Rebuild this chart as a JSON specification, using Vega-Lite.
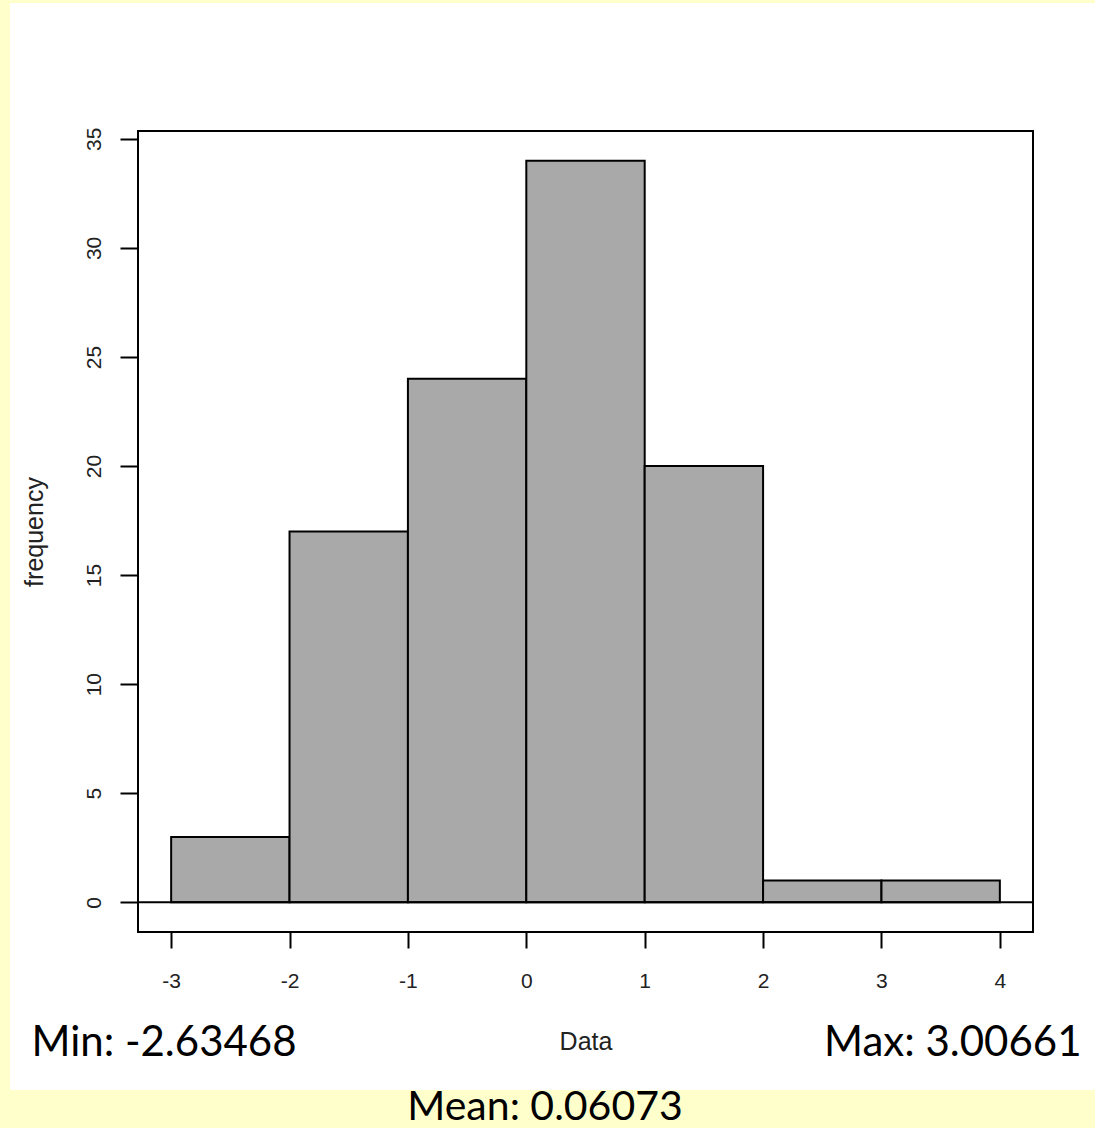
{
  "$schema": "https://vega.github.io/schema/vega-lite/v6.json",
  "autosize": {"type": "none"},
  "width": 895,
  "height": 801,
  "padding": {"left": 138, "top": 131, "right": 62, "bottom": 196},
  "background": "white",
  "config": {
    "view": {"stroke": null}
  },
  "data": {
    "values": [
      {"bin_start": -3, "bin_end": -2, "count": 3},
      {"bin_start": -2, "bin_end": -1, "count": 17},
      {"bin_start": -1, "bin_end": 0, "count": 24},
      {"bin_start": 0, "bin_end": 1, "count": 34},
      {"bin_start": 1, "bin_end": 2, "count": 20},
      {"bin_start": 2, "bin_end": 3, "count": 1},
      {"bin_start": 3, "bin_end": 4, "count": 1}
    ]
  },
  "layer": [
    {
      "mark": {"type": "rect", "fill": "#A9A9A9", "stroke": "black", "strokeWidth": 2},
      "encoding": {
        "x": {
          "field": "bin_start", "type": "quantitative", "title": "Data",
          "scale": {"domain": [-3.28, 4.28], "nice": false, "zero": false},
          "axis": {"values": [-3, -2, -1, 0, 1, 2, 3, 4], "domain": false, "grid": false, "tickColor": "black", "tickWidth": 2, "tickSize": 16,
                   "labelFont": "Liberation Sans", "labelFontSize": 21, "labelColor": "#222222", "labelPadding": 22,
                   "titleFont": "Liberation Sans", "titleFontSize": 25, "titleFontWeight": "normal", "titleColor": "#222222", "titlePadding": 38,
                   "labelExpr": "datum.value + ''", "labelFlush": false, "labelOverlap": false}
        },
        "x2": {"field": "bin_end"},
        "y": {
          "field": "count", "type": "quantitative", "title": "frequency",
          "scale": {"domain": [-1.36, 35.36], "nice": false, "zero": false},
          "axis": {"values": [0, 5, 10, 15, 20, 25, 30, 35], "domain": false, "grid": false, "tickColor": "black", "tickWidth": 2, "tickSize": 18,
                   "labelFont": "Liberation Sans", "labelFontSize": 21, "labelColor": "#222222", "labelAngle": 270, "labelAlign": "center", "labelBaseline": "alphabetic", "labelPadding": 20,
                   "titleFont": "Liberation Sans", "titleFontSize": 25, "titleFontWeight": "normal", "titleColor": "#222222", "titlePadding": 36, "labelOverlap": false}
        },
        "y2": {"datum": 0}
      }
    },
    {
      "data": {"values": [{}]},
      "mark": {"type": "rect", "fill": "#FFFFCC", "stroke": null},
      "encoding": {
        "x": {"datum": -4.4457, "type": "quantitative"},
        "x2": {"datum": -4.361},
        "y": {"datum": -10.345, "type": "quantitative"},
        "y2": {"datum": 41.366}
      }
    },
    {
      "data": {"values": [{}]},
      "mark": {"type": "rect", "fill": "#FFFFCC", "stroke": null},
      "encoding": {
        "x": {"datum": -4.4457, "type": "quantitative"},
        "x2": {"datum": 4.803},
        "y": {"datum": 41.23, "type": "quantitative"},
        "y2": {"datum": 41.366}
      }
    },
    {
      "data": {"values": [{}]},
      "mark": {"type": "rect", "fill": "#FFFFCC", "stroke": null},
      "encoding": {
        "x": {"datum": -4.4457, "type": "quantitative"},
        "x2": {"datum": 4.803},
        "y": {"datum": -10.345, "type": "quantitative"},
        "y2": {"datum": -8.6}
      }
    },
    {
      "data": {"values": [{}]},
      "mark": {"type": "rule", "color": "black", "strokeWidth": 2},
      "encoding": {
        "y": {"datum": 0, "type": "quantitative"}
      }
    },
    {
      "data": {"values": [{}]},
      "mark": {"type": "rect", "fill": null, "fillOpacity": 0, "stroke": "black", "strokeWidth": 2},
      "encoding": {
        "x": {"datum": -3.28, "type": "quantitative"},
        "x2": {"datum": 4.28},
        "y": {"datum": -1.36, "type": "quantitative"},
        "y2": {"datum": 35.36}
      }
    },
    {
      "data": {"values": [{}]},
      "mark": {"type": "text", "text": "Min: -2.63468", "font": "Lato", "fontSize": 42, "color": "black", "align": "left", "baseline": "alphabetic"},
      "encoding": {
        "x": {"datum": -4.18, "type": "quantitative"},
        "y": {"datum": -7.044, "type": "quantitative"}
      }
    },
    {
      "data": {"values": [{}]},
      "mark": {"type": "text", "text": "Max: 3.00661", "font": "Lato", "fontSize": 42, "color": "black", "align": "right", "baseline": "alphabetic"},
      "encoding": {
        "x": {"datum": 4.69, "type": "quantitative"},
        "y": {"datum": -7.044, "type": "quantitative"}
      }
    },
    {
      "data": {"values": [{}]},
      "mark": {"type": "text", "text": "Mean: 0.06073", "font": "Lato", "fontSize": 41, "color": "black", "align": "center", "baseline": "alphabetic"},
      "encoding": {
        "x": {"datum": 0.158, "type": "quantitative"},
        "y": {"datum": -10.0, "type": "quantitative"}
      }
    }
  ]
}
